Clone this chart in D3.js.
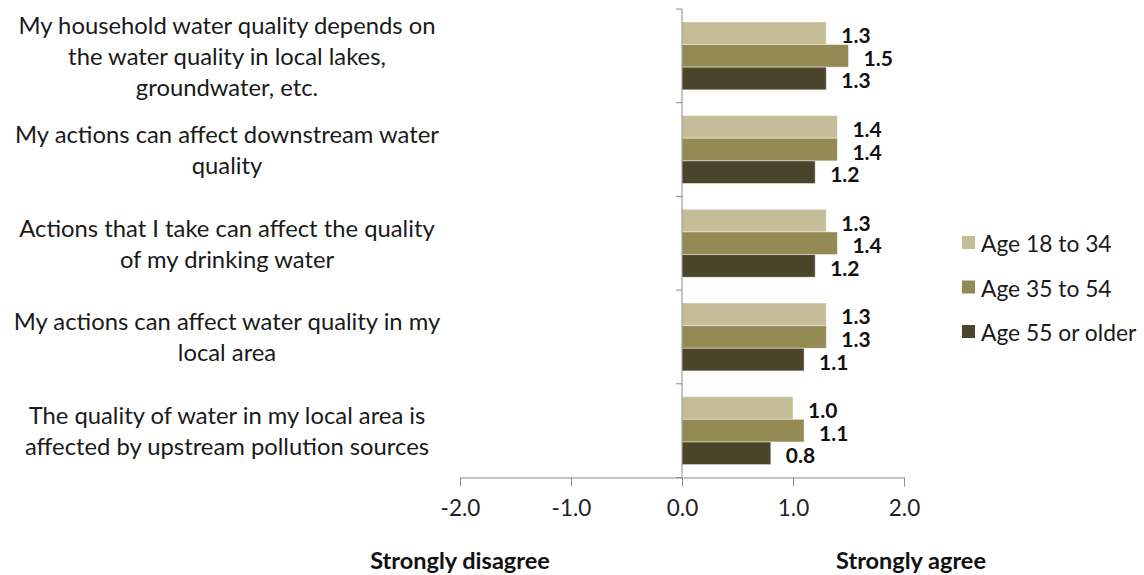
<!DOCTYPE html>
<html><head><meta charset="utf-8">
<script src="https://cdn.jsdelivr.net/npm/d3@7"></script>
<style>body{margin:0;background:#fff}svg{display:block}</style>
</head><body>
<svg id="c" width="1144" height="575"></svg>
<script>
const categories = [
  "My household water quality depends on\nthe water quality in local lakes,\ngroundwater, etc.",
  "My actions can affect downstream water\nquality",
  "Actions that I take can affect the quality\nof my drinking water",
  "My actions can affect water quality in my\nlocal area",
  "The quality of water in my local area is\naffected by upstream pollution sources"
];
const seriesNames = ["Age 18 to 34", "Age 35 to 54", "Age 55 or older"];
const age18to34 = [1.3, 1.4, 1.3, 1.3, 1.0];
const age35to54 = [1.5, 1.4, 1.4, 1.3, 1.1];
const age55plus = [1.3, 1.2, 1.2, 1.1, 0.8];
const seriesValues = [age18to34, age35to54, age55plus];
const xTicks = [-2, -1, 0, 1, 2];
const axisTitles = ["Strongly disagree", "Strongly agree"];
const colors = ["#c4bd97", "#948a54", "#4a452a"];

const svg = d3.select("#c");
const font = "Lato, 'Liberation Sans', sans-serif";
const x = d3.scaleLinear().domain([-2, 2]).range([460, 904]);
const y = d3.scaleBand().domain(d3.range(categories.length)).range([9, 477.5]).paddingInner(0).paddingOuter(0);
const ys = d3.scaleBand().domain(d3.range(3)).range([0, y.bandwidth()]).paddingInner(0).paddingOuter(0.57);

// bars
seriesValues.forEach((vals, s) => {
  const g = svg.append("g");
  g.selectAll("rect").data(vals).join("rect")
    .attr("x", d => Math.min(x(0), x(d)))
    .attr("y", (d, i) => y(i) + ys(s))
    .attr("width", d => Math.abs(x(d) - x(0)))
    .attr("height", ys.bandwidth())
    .attr("fill", colors[s])
    .attr("stroke", "rgba(255,255,255,0.45)")
    .attr("stroke-width", 1);
  g.selectAll("text").data(vals).join("text")
    .attr("x", d => x(d) + 15)
    .attr("y", (d, i) => y(i) + ys(s) + ys.bandwidth() / 2 + 1.5)
    .attr("dominant-baseline", "central")
    .attr("font-family", font).attr("font-weight", "bold").attr("font-size", 21)
    .attr("fill", "#111")
    .text(d => d.toFixed(1));
});

// x axis
const fmt = d => d3.format(".1f")(d).replace("\u2212", "-");
const xAxis = svg.append("g").attr("transform", "translate(0,477.5)")
  .call(d3.axisBottom(x).tickValues(xTicks).tickSize(9).tickSizeOuter(0).tickPadding(14).tickFormat(fmt));
xAxis.select(".domain").attr("stroke", "#8c8c8c");
xAxis.selectAll(".tick line").attr("stroke", "#8c8c8c");
xAxis.selectAll(".tick text").attr("font-family", font).attr("font-size", 22.5).attr("fill", "#222");

// y axis
const yAxisG = svg.append("g").attr("transform", `translate(${x(0)},0)`);
yAxisG.append("line").attr("y1", 9).attr("y2", 477.5).attr("stroke", "#8c8c8c");
yAxisG.selectAll("line.t").data(d3.range(categories.length + 1)).join("line").attr("class", "t")
  .attr("x1", -6).attr("x2", 0)
  .attr("y1", i => i < categories.length ? y(i) : y.range()[1])
  .attr("y2", i => i < categories.length ? y(i) : y.range()[1])
  .attr("stroke", "#8c8c8c");

// category labels
const lh = 31;
categories.forEach((c, i) => {
  const lines = c.split("\n");
  const cy = y(i) + y.bandwidth() / 2;
  const t = svg.append("text").attr("text-anchor", "middle")
    .attr("font-family", font).attr("font-size", 23.8).attr("fill", "#1a1a1a");
  lines.forEach((ln, k) => {
    t.append("tspan").attr("x", 227)
      .attr("y", cy + (k - (lines.length - 1) / 2) * lh)
      .attr("dominant-baseline", "central").text(ln);
  });
});

// axis titles
svg.append("text").attr("x", 460).attr("y", 560).attr("text-anchor", "middle").attr("dominant-baseline", "central")
  .attr("font-family", font).attr("font-weight", "bold").attr("font-size", 23.5).attr("fill", "#111").text(axisTitles[0]);
svg.append("text").attr("x", 911).attr("y", 560).attr("text-anchor", "middle").attr("dominant-baseline", "central")
  .attr("font-family", font).attr("font-weight", "bold").attr("font-size", 23.5).attr("fill", "#111").text(axisTitles[1]);

// legend
const leg = svg.append("g");
seriesNames.forEach((n, s) => {
  const ly = 243 + s * 44.5;
  leg.append("rect").attr("x", 962).attr("y", ly - 7).attr("width", 13).attr("height", 13).attr("fill", colors[s]);
  leg.append("text").attr("x", 981).attr("y", ly).attr("dominant-baseline", "central")
    .attr("font-family", font).attr("font-size", 22.8).attr("fill", "#1a1a1a").text(n);
});
</script>
</body></html>
